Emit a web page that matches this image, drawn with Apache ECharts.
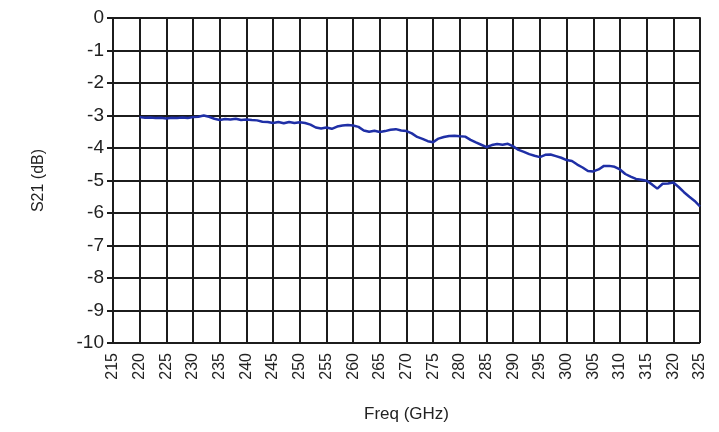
<!DOCTYPE html>
<html>
<head>
<meta charset="utf-8">
<script src="https://cdn.jsdelivr.net/npm/echarts@6/dist/echarts.min.js"></script>
<style>html,body{margin:0;padding:0;background:#fff;}#c{width:719px;height:432px;}</style>
</head>
<body>
<div id="c"></div>
<script>
var freqs = [220,221,222,223,224,225,226,227,228,229,230,231,232,233,234,235,236,237,238,239,240,241,242,243,244,245,246,247,248,249,250,251,252,253,254,255,256,257,258,259,260,261,262,263,264,265,266,267,268,269,270,271,272,273,274,275,276,277,278,279,280,281,282,283,284,285,286,287,288,289,290,291,292,293,294,295,296,297,298,299,300,301,302,303,304,305,306,307,308,309,310,311,312,313,314,315,316,317,318,319,320,321,322,323,324,325];
var s21 = [-3.05,-3.07,-3.06,-3.08,-3.07,-3.09,-3.07,-3.08,-3.06,-3.08,-3.05,-3.04,-3.00,-3.04,-3.10,-3.14,-3.11,-3.12,-3.10,-3.14,-3.12,-3.14,-3.15,-3.19,-3.20,-3.23,-3.20,-3.24,-3.20,-3.23,-3.21,-3.23,-3.28,-3.37,-3.40,-3.37,-3.41,-3.34,-3.31,-3.29,-3.31,-3.35,-3.46,-3.50,-3.47,-3.51,-3.48,-3.44,-3.42,-3.46,-3.48,-3.55,-3.66,-3.72,-3.79,-3.82,-3.71,-3.66,-3.63,-3.62,-3.64,-3.65,-3.75,-3.83,-3.90,-3.97,-3.91,-3.88,-3.90,-3.87,-3.95,-4.06,-4.12,-4.19,-4.24,-4.28,-4.21,-4.20,-4.25,-4.30,-4.37,-4.40,-4.51,-4.60,-4.71,-4.72,-4.66,-4.55,-4.55,-4.58,-4.66,-4.80,-4.88,-4.95,-4.98,-5.01,-5.12,-5.25,-5.10,-5.09,-5.06,-5.20,-5.36,-5.50,-5.63,-5.80];
var xTitle = 'Freq (GHz)';
var yTitle = 'S21 (dB)';
var xMin = 215, xMax = 325, xStep = 5;
var yMin = -10, yMax = 0, yStep = 1;

var chart = echarts.init(document.getElementById('c'), null, {renderer:'canvas'});
var pts = freqs.map(function(f,i){return [f, s21[i]];});
var gridLine = {show:true, lineStyle:{color:'#1c1c1c', width:2}};
var ff = 'Liberation Sans, Arial, sans-serif';
chart.setOption({
  animation:false,
  backgroundColor:'#ffffff',
  grid:{left:113, right:19, top:18, bottom:89, containLabel:false},
  xAxis:{
    type:'value', min:xMin, max:xMax, interval:xStep,
    name:xTitle, nameLocation:'middle', nameGap:63,
    nameTextStyle:{fontFamily:ff, fontSize:17, color:'#222'},
    axisLine:{show:true, lineStyle:{color:'#1c1c1c', width:2}},
    axisTick:{show:true, length:5, lineStyle:{color:'#1c1c1c', width:2}},
    axisLabel:{rotate:90, fontFamily:ff, fontSize:16, color:'#222', margin:10},
    splitLine:gridLine
  },
  yAxis:{
    type:'value', min:yMin, max:yMax, interval:yStep,
    name:yTitle, nameLocation:'middle', nameGap:66, nameRotate:90,
    nameTextStyle:{fontFamily:ff, fontSize:16, color:'#222'},
    axisLine:{show:true, lineStyle:{color:'#1c1c1c', width:2}},
    axisTick:{show:true, length:6, lineStyle:{color:'#1c1c1c', width:2}},
    axisLabel:{fontFamily:ff, fontSize:19, color:'#222', margin:9},
    splitLine:gridLine
  },
  series:[{
    type:'line', data:pts, showSymbol:false, symbol:'none',
    lineStyle:{color:'#1f2fa6', width:2.5}
  }]
});
</script>
</body>
</html>
